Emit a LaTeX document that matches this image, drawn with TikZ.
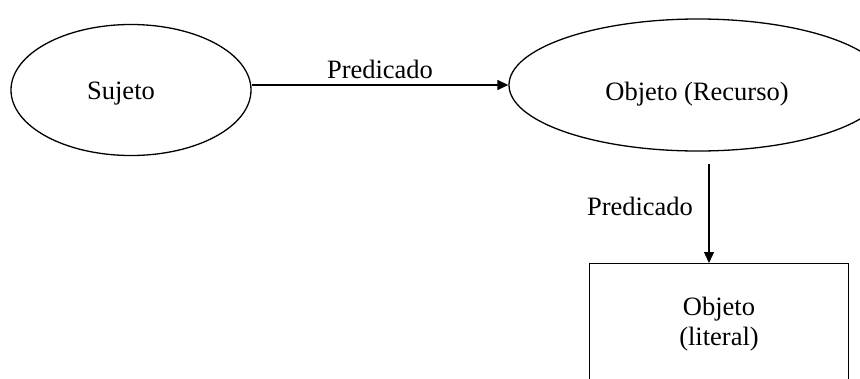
\documentclass[tikz,border=0pt]{standalone}
\usepackage{fontspec}
\setmainfont{Liberation Serif}
\usetikzlibrary{shapes.geometric,arrows.meta}
\begin{document}
\begin{tikzpicture}[x=1pt,y=-1pt,
  line width=1.3pt,
  txt/.style={font=\fontsize{26.5}{30}\selectfont, inner sep=0pt, anchor=base},
  oval/.style={draw, ellipse, inner sep=0pt},
  link/.style={-{Triangle[length=11pt,width=10pt]}}
]
\useasboundingbox (0,0) rectangle (860,378);
\clip (0,0) rectangle (860,378);
% subject and object ellipses
\node[oval, minimum width=240pt, minimum height=131pt] (suj) at (131,90) {};
\node[oval, minimum width=378pt, minimum height=132pt] (obj) at (698,85) {};
\node[txt] (sujtxt) at (121,99) {Sujeto};
\node[txt] (objtxt) at (697,100) {Objeto (Recurso)};
% literal box, running past the lower edge
\node[draw, rectangle, anchor=north west, minimum width=259pt, minimum height=160pt, inner sep=0pt] (lit) at (589,263) {};
\node[txt] (littxt1) at (719,315) {Objeto};
\node[txt] (littxt2) at (719,345) {(literal)};
% a vertical guide for the downward connector
\coordinate (col) at (709,0);
\draw[link] (suj.east |- obj.west) -- (obj.west);
\draw[link, shorten <=12pt] (obj.south -| col) -- (lit.north -| col);
\node[txt] (p1) at (380,78) {Predicado};
\node[txt] (p2) at (640,215) {Predicado};
\end{tikzpicture}
\end{document}
